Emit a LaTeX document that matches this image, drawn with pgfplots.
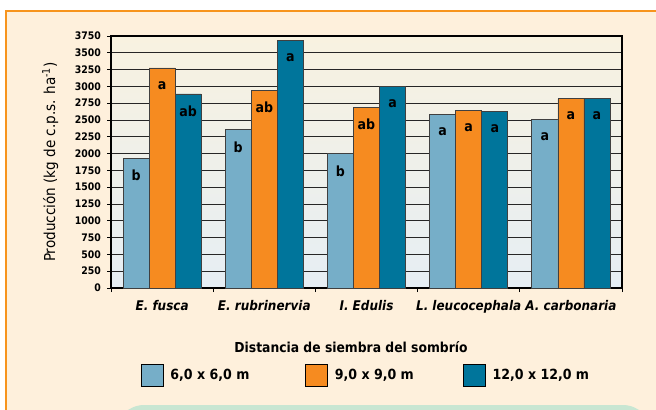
\documentclass[border=0pt]{standalone}
\usepackage{pgfplots}
\pgfplotsset{compat=1.18}
\usepackage{fontspec}
\setmainfont{DejaVu Sans Condensed}
\definecolor{cA}{RGB}{118,174,200}
\definecolor{cB}{RGB}{246,139,32}
\definecolor{cC}{RGB}{0,117,155}
\definecolor{cream}{RGB}{254,240,220}
\definecolor{frame}{RGB}{247,148,29}
\definecolor{gtop}{RGB}{248,242,224}
\definecolor{gbot}{RGB}{230,238,244}
\definecolor{mint}{RGB}{200,230,210}
\begin{document}
\begin{tikzpicture}
\begin{scope}[x=0.75pt,y=-0.75pt]
\path[use as bounding box] (0,0) rectangle (656,410);
\fill[white] (0,0) rectangle (656,410);
\fill[cream] (6,11) rectangle (656,410);
\draw[frame, line width=1.6pt] (6,412) -- (6,11) -- (658,11);
\fill[mint, rounded corners=22pt] (115,405) rectangle (652,440);
\node[font=\bfseries\fontsize{10.3}{12}\selectfont] at (351,347) {Distancia de siembra del sombrío};
\end{scope}
\begin{axis}[
  at={(83.25pt,-216pt)}, anchor=south west,
  scale only axis, width=383.25pt, height=189pt,
  xmin=-0.5, xmax=4.5, ymin=0, ymax=3750,
  axis background/.style={shade, top color=gtop, bottom color=gbot},
  axis line style={line width=1.1pt, black},
  ytick={0,250,...,3750},
  ymajorgrids, grid style={black!85, line width=0.6pt},
  tick align=outside,
  xtick pos=bottom, ytick pos=left,
  major tick length=3pt,
  tick style={black, line width=0.6pt},
  xtick={0,1,2,3,4},
  x tick style={draw=none},
  minor xtick={-0.5,0.5,1.5,2.5,3.5,4.5},
  minor x tick style={draw=black, line width=0.6pt},
  minor tick length=3pt,
  xticklabels={E. fusca, E. rubrinervia, I. Edulis, L. leucocephala, A. carbonaria},
  xticklabel style={font=\bfseries\itshape\fontsize{10}{12}\selectfont, yshift=-3pt},
  yticklabel style={font=\bfseries\fontsize{7.8}{9}\selectfont, xshift=-1pt},
  /pgf/number format/assume math mode=true,
  /pgf/number format/1000 sep={},
  ylabel={Producción (kg de c.p.s. ha\textsuperscript{-1})},
  every axis y label/.style={at={(axis description cs:-0.119,0.5)}, rotate=90, anchor=center, font=\fontsize{11.3}{13}\selectfont},
  legend columns=3,
  legend style={at={(axis description cs:0.0587,-0.345)}, anchor=west, draw=none, fill=none, inner sep=0pt, outer sep=0pt,
    font=\bfseries\fontsize{10.5}{12}\selectfont,
    /tikz/column 2/.style={column sep=40pt},
    /tikz/column 4/.style={column sep=35pt}},
  legend image code/.code={\draw[#1, draw=black, line width=0.6pt] (0pt,-8.25pt) rectangle (16.5pt,8.25pt); \path (19.5pt,0pt);},
  legend cell align=left,
  nodes near coords,
  point meta=explicit symbolic,
  every node near coord/.append style={anchor=center, yshift=-13pt, font=\bfseries\fontsize{10.5}{12}\selectfont, black},
]
\addplot[ybar, bar width=0.255, bar shift=-0.255, fill=cA, draw=black!75, line width=0.5pt,
  every node near coord/.append style={xshift=-19.55pt}]
  coordinates {(0,1934)[b] (1,2356)[b] (2,1999)[b] (3,2589)[a] (4,2509)[a]};
\addlegendentry{6,0 x 6,0 m}
\addplot[ybar, bar width=0.255, bar shift=0, fill=cB, draw=black!75, line width=0.5pt]
  coordinates {(0,3274)[a] (1,2941)[ab] (2,2688)[ab] (3,2638)[a] (4,2817)[a]};
\addlegendentry{9,0 x 9,0 m}
\addplot[ybar, bar width=0.255, bar shift=0.255, fill=cC, draw=black!75, line width=0.5pt,
  every node near coord/.append style={xshift=19.55pt}]
  coordinates {(0,2887)[ab] (1,3690)[a] (2,3000)[a] (3,2628)[a] (4,2827)[a]};
\addlegendentry{12,0 x 12,0 m}
\end{axis}
\end{tikzpicture}
\end{document}
